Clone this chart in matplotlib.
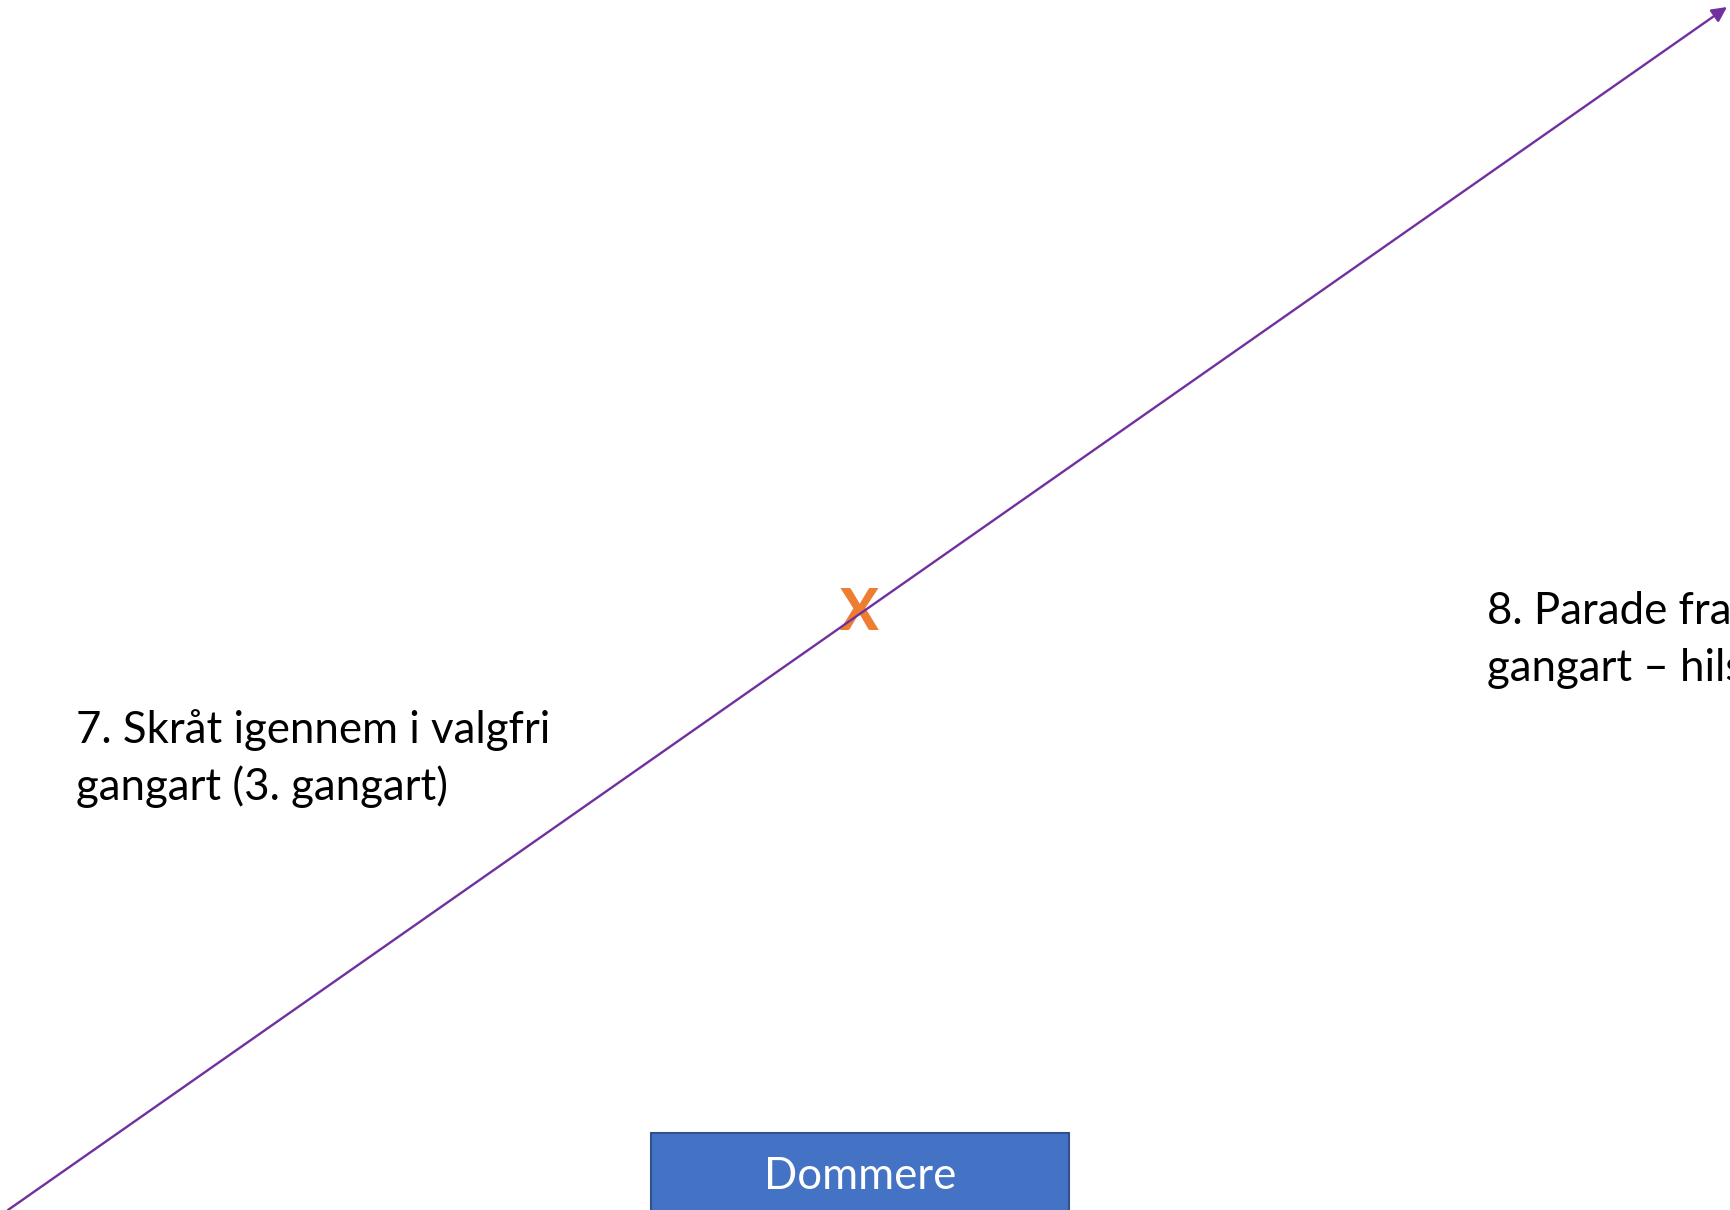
import matplotlib
matplotlib.use("Agg")

import matplotlib.pyplot as plt
from matplotlib.patches import Rectangle

plt.rcParams["font.family"] = ["Lato", "DejaVu Sans"]

W, H = 1730, 1210

# diagonal route (pixel space, y downwards)
route_x = [8, 1727]
route_y = [1210, 7]

# centre marker
x_pos = (858, 614)

# judge box
judge_box = (651, 1133, 418, 120)
judge_label = "Dommere"

# notes: (x, baseline y, lines)
note_left = (76, [743, 800], ["7. Skråt igennem i valgfri", "gangart (3. gangart)"])
note_right = (1487, [624, 681], ["8. Parade fra valgfri", "gangart – hilsen"])

purple = "#7030A0"
orange = "#ED7D31"
blue = "#4472C4"

fig = plt.figure(figsize=(W / 100, H / 100), dpi=100)
ax = fig.add_axes([0, 0, 1, 1])
ax.set_xlim(0, W)
ax.set_ylim(H, 0)
ax.axis("off")

ax.annotate("", xy=(route_x[1], route_y[1]), xytext=(route_x[0], route_y[0]),
            arrowprops=dict(arrowstyle="-|>,head_length=0.9,head_width=0.45",
                            color=purple, lw=1.7, shrinkA=0, shrinkB=0))

ax.text(x_pos[0], x_pos[1], "X", color=orange, fontsize=41, fontweight="black",
        ha="center", va="center", zorder=1)

bx, by, bw, bh = judge_box
ax.add_patch(Rectangle((bx, by), bw, bh, facecolor=blue, edgecolor="#2F528F", lw=1.5))
ax.text(bx + bw / 2, 1189, judge_label, color="white", fontsize=31.5,
        ha="center", va="baseline")

for nx, ys, lines in (note_left, note_right):
    for y, line in zip(ys, lines):
        ax.text(nx, y, line, color="black", fontsize=31.5, ha="left", va="baseline")

fig.savefig("out.png", dpi=100)
plt.close(fig)
